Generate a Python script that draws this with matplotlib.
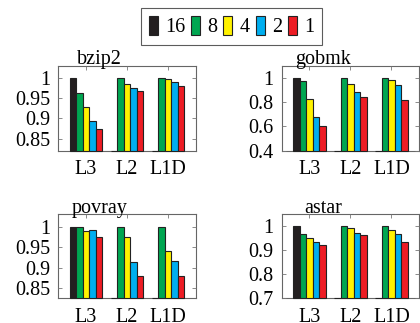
import numpy as np
import matplotlib.pyplot as plt
from matplotlib.patches import Patch

plt.rcParams['font.family'] = ['Liberation Serif', 'DejaVu Serif']
plt.rcParams['font.size'] = 14.5

# data
groups = ['L3', 'L2', 'L1D']
series = ['16', '8', '4', '2', '1']
colors = ['#231f20', '#00a651', '#fff200', '#00aeef', '#ed1c24']

# rows: series (16, 8, 4, 2, 1), columns: L3, L2, L1D
bzip2 = [[1.000, 0.0, 0.0],
         [0.962, 1.000, 1.000],
         [0.929, 0.986, 0.996],
         [0.893, 0.974, 0.990],
         [0.873, 0.968, 0.979]]
gobmk = [[1.000, 0.0, 0.0],
         [0.972, 1.000, 1.000],
         [0.828, 0.953, 0.983],
         [0.676, 0.887, 0.945],
         [0.607, 0.842, 0.817]]
povray = [[1.000, 0.0, 0.0],
          [1.000, 1.000, 1.000],
          [0.990, 0.976, 0.941],
          [0.992, 0.913, 0.917],
          [0.974, 0.880, 0.881]]
astar = [[1.000, 0.0, 0.0],
         [0.967, 1.000, 1.000],
         [0.952, 0.992, 0.985],
         [0.934, 0.974, 0.970],
         [0.921, 0.964, 0.934]]

panels = [
    ('bzip2', bzip2, (0.82, 1.03), [0.85, 0.9, 0.95, 1], ['0.85', '0.9', '0.95', '1']),
    ('gobmk', gobmk, (0.4, 1.1), [0.4, 0.6, 0.8, 1], ['0.4', '0.6', '0.8', '1']),
    ('povray', povray, (0.826, 1.03), [0.85, 0.9, 0.95, 1], ['0.85', '0.9', '0.95', '1']),
    ('astar', astar, (0.7, 1.05), [0.7, 0.8, 0.9, 1], ['0.7', '0.8', '0.9', '1']),
]

W, H = 420, 323
fig = plt.figure(figsize=(W / 100, H / 100), dpi=100)

# axes boxes in pixels: left, top, width, height
boxes = [(58.3, 65.7, 137.4, 85.0), (281.7, 65.7, 137.4, 85.0),
         (58.3, 214.3, 137.4, 84.0), (281.7, 214.3, 137.4, 84.0)]

x = np.arange(1, len(groups) + 1)
bw = 0.16
for (name, vals, ylim, yt, ytl), (l, t, w, h) in zip(panels, boxes):
    ax = fig.add_axes([l / W, 1 - (t + h) / H, w / W, h / H])
    for s in ax.spines.values():
        s.set_color('#666666')
        s.set_linewidth(0.8)
        s.set_zorder(0.5)
    lo = ylim[0]
    for i, v in enumerate(vals):
        v = np.maximum(np.array(v), lo)
        ax.bar(x + (i - 2) * bw, v - lo, bw, bottom=lo, color=colors[i],
               edgecolor='#222222', linewidth=0.8, clip_on=False, zorder=2)
    ax.set_xlim(0.325, 3.675)
    ax.set_ylim(*ylim)
    ax.set_xticks(x)
    ax.set_xticklabels(groups)
    ax.set_yticks(yt)
    ax.set_yticklabels(ytl)
    ax.tick_params(direction='in', length=3, width=0.6, color='#777777',
                   top=True, right=True, labelsize=14.5)
    ax.tick_params(axis='y', pad=6)
    ax.tick_params(axis='x', pad=7)
    ax.set_title(name, x=0.30, pad=1, fontsize=14.5)

handles = [Patch(facecolor=c, edgecolor='#222222', linewidth=0.8) for c in colors]
leg = fig.legend(handles, series, loc='center', ncol=5,
                 bbox_to_anchor=(231.5 / W, 1 - 26.3 / H),
                 handlelength=0.45, handleheight=1.1, handletextpad=0.35,
                 columnspacing=0.3, borderpad=0.38, borderaxespad=0,
                 frameon=True, fancybox=False,
                 edgecolor='#333333', fontsize=14.5)
leg.get_frame().set_linewidth(0.8)

fig.savefig('out.png', dpi=100)
